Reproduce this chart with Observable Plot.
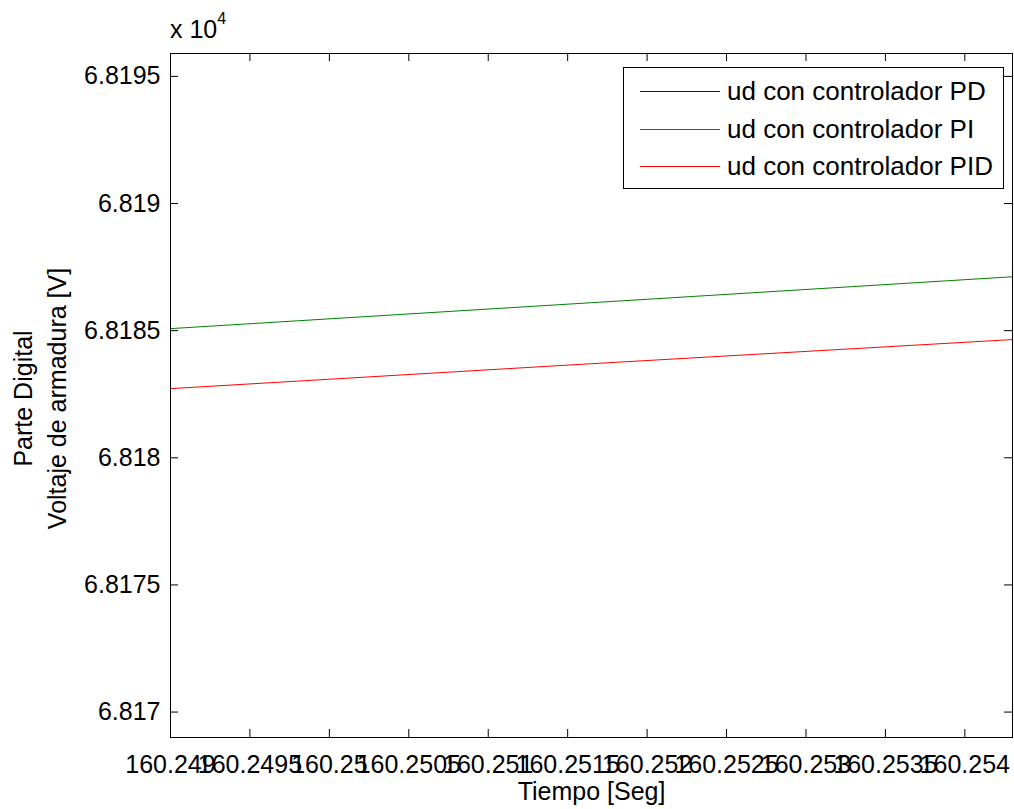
<!DOCTYPE html>
<html>
<head>
<meta charset="utf-8">
<script src="https://cdn.jsdelivr.net/npm/d3@7"></script>
<script src="https://cdn.jsdelivr.net/npm/@observablehq/plot@0.6"></script>
<style>
  body { margin: 0; background: white; }
  #wrap { position: relative; width: 1014px; height: 809px; font-family: "Liberation Sans", Arial, sans-serif; }
  #legend { position: absolute; left: 623px; top: 67px; width: 381px; height: 122px; border: 1px solid black; background: white; box-sizing: border-box; }
  .item { position: absolute; left: 0; height: 30px; font-size: 26px; line-height: 30px; white-space: nowrap; }
  .item .sw { position: absolute; left: 16px; width: 80px; height: 1px; top: 15px; }
  .item .lb { position: absolute; left: 103px; top: 0; }
  #exp { position: absolute; left: 170px; top: 15px; font-size: 25px; white-space: nowrap; }
  #exp sup { font-size: 16px; position: relative; top: -5px; vertical-align: top; }
</style>
</head>
<body>
<div id="wrap"></div>
<script>
// Time axis (s) and read values (V) — lines are straight; read at left edge, middle, right edge
const time = [160.249, 160.25165, 160.2543];
const pdValues = [];                              // "ud con controlador PD": not visible in the window
const piValues = [68185.08, 68186.10, 68187.12];  // "ud con controlador PI"
const pidValues = [68182.72, 68183.70, 68184.65]; // "ud con controlador PID"
const seriesNames = ["ud con controlador PD", "ud con controlador PI", "ud con controlador PID"];
const seriesColors = ["#0000ff", "#008000", "#ff0000"];
const xTicks = [160.249, 160.2495, 160.25, 160.2505, 160.251, 160.2515, 160.252, 160.2525, 160.253, 160.2535, 160.254];
const yTicks = [68170, 68175, 68180, 68185, 68190, 68195];
const xLabel = "Tiempo [Seg]";
const yLabel = "Parte Digital\nVoltaje de armadura [V]";

const rows = [];
[pdValues, piValues, pidValues].forEach((vals, k) => {
  vals.forEach((v, i) => rows.push({t: time[i], v, s: seriesNames[k]}));
});

const xFmt = d => String(+d.toFixed(4));
const yFmt = d => String(+(d / 1e4).toFixed(5));

const W = 1014, H = 809, mL = 170, mR = 2, mT = 53, mB = 72, tick = 8;
const innerW = W - mL - mR, innerH = H - mT - mB;

const chart = Plot.plot({
  width: W,
  height: H,
  marginLeft: mL,
  marginRight: mR,
  marginTop: mT,
  marginBottom: mB,
  style: {fontFamily: "'Liberation Sans', Arial, sans-serif", fontSize: "25px", background: "white", color: "black", overflow: "visible"},
  x: {domain: [160.249, 160.2543]},
  y: {domain: [68169.0, 68195.9]},
  color: {domain: seriesNames, range: seriesColors},
  marks: [
    Plot.line(rows, {x: "t", y: "v", z: "s", stroke: "s", strokeWidth: 1, clip: true}),
    // inward tick marks on all four sides
    Plot.tickX(xTicks, {x: d => d, insetTop: innerH - tick, stroke: "black"}),
    Plot.tickX(xTicks, {x: d => d, insetBottom: innerH - tick, stroke: "black"}),
    Plot.tickY(yTicks, {y: d => d, insetRight: innerW - tick, stroke: "black"}),
    Plot.tickY(yTicks, {y: d => d, insetLeft: innerW - tick, stroke: "black"}),
    Plot.axisX({anchor: "bottom", ticks: xTicks, tickSize: 0, tickPadding: 18, tickFormat: xFmt, label: null, fontSize: 25}),
    Plot.axisY({anchor: "left", ticks: yTicks, tickSize: 0, tickPadding: 10, tickFormat: yFmt, label: null, fontSize: 25}),
    Plot.frame({stroke: "black", strokeWidth: 1}),
    Plot.text([xLabel], {text: d => d, frameAnchor: "bottom", dy: 62, fontSize: 25}),
    Plot.text([yLabel], {text: d => d, frameAnchor: "left", textAnchor: "middle", dx: -132, dy: 3, rotate: -90, lineHeight: 1.35, fontSize: 25})
  ]
});

const wrap = document.getElementById("wrap");
wrap.appendChild(chart);

const exp = document.createElement("div");
exp.id = "exp";
exp.innerHTML = "x 10<sup>4</sup>";
wrap.appendChild(exp);

const legend = document.createElement("div");
legend.id = "legend";
seriesNames.forEach((name, i) => {
  const item = document.createElement("div");
  item.className = "item";
  item.style.top = (8 + i * 37.5) + "px";
  const sw = document.createElement("div");
  sw.className = "sw";
  sw.style.background = seriesColors[i];
  const lb = document.createElement("div");
  lb.className = "lb";
  lb.textContent = name;
  item.appendChild(sw);
  item.appendChild(lb);
  legend.appendChild(item);
});
wrap.appendChild(legend);
</script>
</body>
</html>
